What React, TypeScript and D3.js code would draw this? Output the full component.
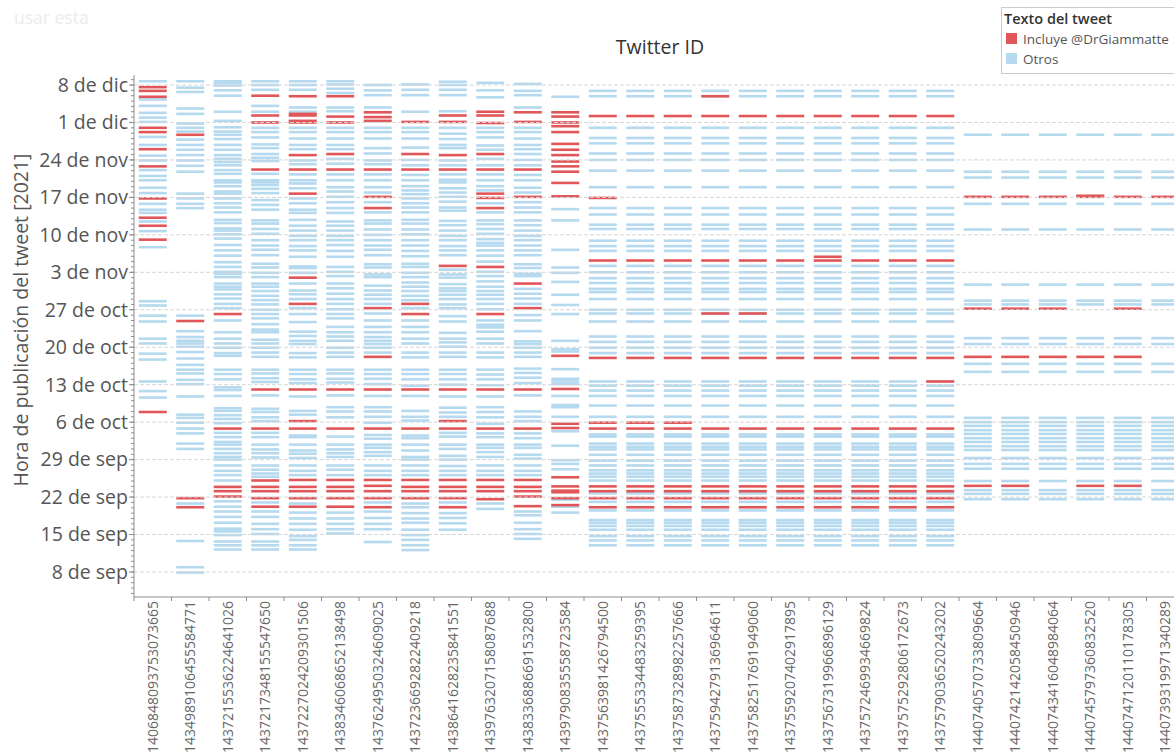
import React from "react";
import * as d3 from "d3";

// Twitter IDs (x categories)
const tweetIds = [
  "1406848093753073665", "1434989106455584771", "1437215536224641026", "1437217348155547650",
  "1437227024209301506", "1438346068652138498", "1437624950324609025", "1437236692822409218",
  "1438641628235841551", "1439763207158087688", "1438336886691532800", "1439790835558723584",
  "1437563981426794500", "1437555334483259395", "1437587328982257666", "1437594279136964611",
  "1437582517691949060", "1437559207402917895", "1437567319966896129", "1437572469934669824",
  "1437575292806172673", "1437579036520243202", "1440740570733809664", "1440742142058450946",
  "1440743416048984064", "1440745797360832520", "1440747120110178305", "1440739319971340289",
];

// Y tick labels (weekly, from 8 Sep 2021)
const yTickLabels = ["8 de sep", "15 de sep", "22 de sep", "29 de sep", "6 de oct", "13 de oct", "20 de oct", "27 de oct", "3 de nov", "10 de nov", "17 de nov", "24 de nov", "1 de dic", "8 de dic"];

const legendTitle = "Texto del tweet";
const legendLabels = ["Incluye @DrGiammatte", "Otros"];

// All values: publication time, in days since 1 Sep 2021 (00:00 UTC)
const c01Otros = [98.7, 95.3, 94.1, 92.8, 91.9, 91.1, 88.3, 86.8, 84.8, 83.9, 82.1, 81.0, 80.2, 78.8, 77.8, 75.8, 74.7, 74.1, 72.5, 70.7, 67.7, 57.6, 56.8, 54.9, 53.8, 50.6, 49.7, 47.8, 46.7, 42.6, 40.8, 39.6];
const c01Incl = [97.6, 96.9, 95.8, 90.0, 89.2, 86.0, 82.8, 76.8, 73.2, 71.7, 69.1, 36.9];

const c02Otros = [98.7, 97.5, 96.7, 93.6, 92.6, 90.8, 90.0, 89.3, 87.8, 86.8, 85.9, 84.9, 83.9, 82.9, 81.8, 77.7, 76.8, 75.8, 75.0, 54.9, 52.0, 50.9, 50.2, 49.7, 49.1, 48.1, 46.9, 45.7, 44.8, 44.1, 42.9, 42.1, 39.8, 36.4, 35.8, 34.9, 33.8, 32.9, 31.0, 30.0, 19.8, 12.8, 7.9, 6.9];
const c02Incl = [88.7, 53.9, 20.8, 19.1];

const c03Otros = [98.7, 98.4, 97.9, 97.0, 96.0, 93.0, 91.3, 90.1, 89.3, 88.7, 87.9, 86.8, 85.9, 84.9, 84.2, 83.6, 83.0, 82.1, 81.4, 80.2, 79.8, 79.1, 78.1, 77.7, 76.8, 75.9, 75.1, 74.2, 72.8, 72.2, 71.2, 70.8, 70.1, 69.3, 68.1, 67.1, 66.1, 64.9, 64.0, 63.1, 62.7, 62.1, 60.9, 60.3, 59.8, 58.9, 58.1, 57.1, 56.3, 54.0, 51.8, 50.6, 49.7, 48.9, 47.9, 47.4, 44.8, 44.0, 43.0, 41.5, 41.0, 39.9, 37.6, 37.1, 36.3, 35.6, 34.8, 33.0, 32.2, 31.3, 30.8, 30.0, 29.2, 28.5, 28.0, 26.9, 25.9, 25.1, 24.1, 20.2, 19.2, 18.3, 17.3, 16.2, 15.1, 14.6, 13.9, 12.7, 12.0, 11.2];
const c03Incl = [55.2, 33.8, 22.9, 22.1, 21.1];

const c04Otros = [98.7, 98.0, 97.1, 94.1, 93.0, 90.0, 89.2, 88.2, 86.9, 86.2, 85.1, 84.4, 83.8, 81.4, 80.2, 79.8, 79.3, 78.6, 77.8, 76.5, 75.6, 74.7, 72.7, 72.1, 71.1, 70.2, 69.0, 68.0, 67.2, 66.2, 64.6, 63.9, 62.9, 62.1, 60.9, 60.3, 59.5, 58.6, 57.8, 57.0, 56.0, 55.2, 54.4, 53.3, 52.3, 51.8, 50.4, 49.7, 48.9, 48.0, 47.2, 44.8, 44.1, 43.2, 42.5, 40.0, 37.5, 36.9, 35.9, 35.2, 33.0, 32.2, 30.8, 29.9, 29.2, 28.4, 26.9, 26.1, 25.4, 24.8, 20.0, 18.3, 17.3, 16.0, 15.0, 14.1, 12.7, 12.0, 11.2];
const c04Incl = [96.0, 92.3, 91.0, 82.2, 41.1, 33.8, 24.1, 22.9, 22.1, 20.8, 19.2];

const c05Otros = [98.7, 98.0, 97.1, 93.8, 93.0, 90.0, 89.2, 88.0, 86.8, 86.0, 83.9, 83.2, 81.3, 80.2, 79.6, 78.7, 76.8, 75.9, 74.7, 74.1, 72.8, 71.7, 70.8, 69.8, 69.0, 67.9, 67.1, 65.9, 64.1, 63.8, 62.9, 60.9, 59.6, 58.9, 58.0, 56.3, 55.2, 53.7, 51.9, 51.1, 50.2, 49.6, 47.9, 47.1, 44.8, 44.0, 43.0, 42.3, 39.8, 37.1, 36.4, 32.5, 32.2, 30.8, 29.7, 29.1, 28.3, 26.9, 25.9, 25.1, 19.8, 18.1, 17.0, 16.0, 14.9, 13.7, 13.0, 12.0, 11.2];
const c05Incl = [95.9, 92.6, 92.3, 91.3, 91.0, 84.9, 82.2, 77.7, 62.0, 57.1, 41.1, 35.2, 33.8, 24.2, 22.9, 22.1, 20.8, 19.2];

const c06Otros = [98.7, 98.1, 97.3, 96.5, 93.8, 93.1, 90.0, 89.2, 88.0, 86.8, 86.0, 84.2, 83.3, 81.3, 80.2, 78.9, 78.1, 77.1, 76.1, 75.0, 74.1, 72.5, 71.7, 70.8, 69.8, 69.0, 68.1, 67.0, 65.9, 64.0, 63.1, 62.3, 60.9, 60.0, 59.0, 58.0, 57.1, 56.1, 55.2, 54.4, 52.8, 51.8, 51.0, 50.2, 48.9, 48.0, 47.2, 44.8, 44.1, 43.1, 42.4, 40.0, 37.8, 37.0, 35.9, 32.3, 30.8, 29.9, 29.2, 28.5, 26.9, 26.1, 25.1, 18.1, 17.0, 16.0, 15.0, 14.2];
const c06Incl = [95.9, 92.1, 91.0, 85.1, 82.2, 41.1, 33.8, 24.2, 22.9, 22.1, 20.8, 19.2];

const c07Otros = [98.0, 97.0, 96.1, 93.8, 90.0, 89.2, 88.0, 86.2, 85.2, 83.9, 83.2, 81.3, 80.2, 78.9, 77.9, 76.1, 74.2, 72.7, 72.1, 71.0, 70.0, 69.0, 68.0, 67.2, 66.2, 64.5, 63.9, 62.6, 62.1, 60.5, 59.6, 58.8, 58.0, 57.1, 55.3, 54.0, 52.8, 51.8, 50.9, 50.2, 49.6, 48.9, 48.0, 44.8, 44.0, 43.1, 42.1, 39.9, 37.8, 37.0, 36.0, 34.9, 32.6, 31.9, 30.8, 30.2, 29.4, 28.7, 26.9, 25.9, 25.1, 20.0, 18.3, 17.1, 16.0, 15.0, 12.6];
const c07Incl = [92.9, 92.0, 91.3, 82.2, 77.1, 75.0, 56.3, 47.2, 41.1, 33.8, 24.2, 23.1, 22.1, 20.8, 19.1];

const c08Otros = [98.1, 97.1, 96.1, 93.0, 90.0, 89.2, 88.0, 86.3, 84.0, 83.0, 81.2, 80.2, 79.1, 78.3, 77.6, 76.8, 75.9, 75.1, 74.2, 72.8, 72.1, 71.0, 70.1, 69.0, 68.0, 67.0, 66.0, 64.6, 64.0, 62.9, 62.1, 61.1, 60.3, 59.5, 58.6, 57.8, 56.3, 54.0, 52.8, 51.8, 50.6, 49.7, 48.0, 47.1, 44.8, 44.0, 43.0, 41.8, 39.9, 37.1, 36.0, 35.3, 32.5, 32.0, 30.8, 29.7, 28.5, 28.0, 26.9, 25.9, 25.1, 19.8, 19.1, 18.0, 17.0, 16.2, 14.9, 13.9, 13.0, 12.0, 11.1];
const c08Incl = [91.1, 85.1, 82.2, 57.1, 55.2, 41.1, 33.8, 24.2, 22.9, 22.1, 20.8];

const c09Otros = [98.6, 98.0, 97.1, 96.1, 93.1, 90.0, 88.9, 87.9, 86.8, 86.2, 83.9, 83.0, 81.3, 80.3, 79.8, 78.7, 77.9, 77.1, 76.2, 75.1, 74.5, 72.6, 71.8, 70.8, 69.8, 69.0, 67.9, 67.1, 66.2, 63.5, 62.6, 62.0, 60.8, 60.0, 59.5, 58.8, 58.0, 57.0, 56.3, 54.8, 53.8, 51.7, 50.6, 49.9, 49.1, 48.0, 47.2, 44.8, 44.0, 43.0, 42.0, 39.8, 37.7, 36.8, 36.0, 33.0, 32.3, 30.8, 30.0, 28.7, 28.0, 26.8, 25.9, 25.1, 20.0, 18.0, 17.1, 16.1, 14.9];
const c09Incl = [92.3, 91.1, 84.9, 82.2, 64.2, 41.1, 35.2, 33.8, 24.2, 22.9, 22.1, 20.8, 19.1];

const c10Otros = [98.4, 97.0, 95.7, 90.0, 89.2, 88.2, 86.7, 85.9, 84.2, 83.0, 81.3, 80.2, 79.1, 78.3, 75.9, 74.2, 72.7, 72.0, 71.1, 70.2, 69.2, 68.5, 68.0, 67.1, 66.1, 65.0, 63.1, 62.3, 61.3, 60.3, 59.5, 58.8, 58.0, 57.1, 56.1, 54.0, 53.2, 52.7, 51.9, 50.6, 49.7, 48.0, 47.1, 44.8, 43.9, 43.0, 41.9, 39.8, 37.8, 36.9, 35.9, 34.7, 32.9, 32.2, 30.8, 30.2, 29.4, 28.5, 26.9, 25.9, 25.1, 19.8, 18.8];
const c10Incl = [93.0, 92.3, 90.9, 85.1, 82.2, 77.7, 76.9, 75.0, 64.0, 55.2, 41.1, 33.8, 24.2, 22.9, 22.1, 20.6];

const c11Otros = [98.2, 96.9, 96.1, 93.8, 90.0, 89.2, 88.0, 86.8, 86.0, 85.1, 84.0, 83.0, 81.2, 80.2, 78.8, 77.9, 76.1, 75.1, 74.2, 72.7, 71.8, 70.8, 69.8, 69.0, 68.0, 67.1, 66.2, 64.5, 63.8, 62.7, 62.3, 59.9, 59.0, 58.1, 57.1, 55.0, 54.0, 52.0, 50.1, 49.6, 48.9, 48.0, 47.2, 45.0, 44.2, 43.3, 42.3, 40.0, 37.0, 36.0, 35.2, 32.9, 32.0, 30.8, 30.2, 28.9, 28.2, 26.9, 25.9, 25.1, 18.3, 17.6, 16.2, 15.0, 14.1, 13.2];
const c11Incl = [92.9, 91.1, 82.2, 77.1, 60.9, 56.3, 41.1, 33.8, 24.2, 22.9, 22.1, 21.1, 19.3];

const c12Otros = [95.8, 74.8, 72.7, 67.2, 63.9, 62.9, 61.2, 58.8, 56.9, 55.2, 50.2, 48.6, 48.2, 44.9, 43.1, 42.6, 42.1, 39.9, 38.2, 37.8, 36.0, 33.3, 30.6, 27.9, 27.2, 26.2, 20.5, 19.2, 18.1];
const c12Incl = [92.9, 92.1, 91.0, 90.3, 89.2, 87.0, 85.9, 84.9, 83.7, 82.8, 81.8, 79.7, 77.2, 47.4, 41.2, 34.7, 33.9, 24.7, 23.0, 22.2, 21.9, 20.8, 19.5];

// Columns 13-22 share the same thread timeline
const hiloOtros = [96.9, 95.9, 90.0, 88.1, 87.1, 85.2, 84.0, 82.0, 78.9, 75.0, 73.8, 71.9, 71.1, 68.9, 67.9, 67.0, 64.2, 63.0, 61.9, 61.0, 59.9, 59.3, 58.0, 56.0, 55.3, 53.8, 51.0, 50.0, 48.9, 47.9, 42.6, 41.8, 40.9, 39.9, 38.1, 36.0, 32.7, 32.3, 31.0, 30.4, 29.9, 28.9, 27.8, 26.9, 26.0, 25.4, 24.8, 24.1, 21.7, 20.1, 18.5, 16.7, 16.2, 15.6, 14.9, 13.7, 12.9, 12.0];
const c13Incl = [92.2, 76.9, 65.2, 47.0, 34.9, 33.8, 23.0, 22.1, 20.8, 19.1];
const c14Incl = [92.2, 65.2, 47.0, 34.9, 33.8, 23.0, 22.1, 20.8, 19.1];
const c15Incl = [92.2, 65.2, 47.0, 34.9, 33.8, 23.0, 22.1, 20.8, 19.1];
const c16Incl = [95.9, 92.2, 65.2, 55.3, 47.0, 33.8, 23.0, 22.1, 20.8, 19.1];
const c17Incl = [92.2, 65.2, 55.3, 47.0, 33.8, 23.0, 22.1, 20.8, 19.1];
const c18Incl = [92.2, 65.2, 47.0, 33.8, 23.0, 22.1, 20.8, 19.1];
const c19Incl = [92.2, 65.9, 65.2, 47.0, 33.8, 23.0, 22.1, 20.8, 19.1];
const c20Incl = [92.2, 65.2, 47.0, 33.8, 23.0, 22.1, 20.8, 19.1];
const c21Incl = [92.2, 65.2, 47.0, 33.8, 23.0, 22.1, 20.8, 19.1];
const c22Incl = [92.2, 65.2, 47.0, 42.6, 33.8, 23.0, 22.1, 20.8, 19.1];

// Columns 23-28 share a later thread timeline
const hilo2Otros = [88.7, 81.8, 80.7, 75.8, 71.0, 60.7, 57.7, 57.0, 50.7, 49.6, 45.9, 44.4, 35.8, 35.0, 34.3, 33.5, 32.8, 32.0, 31.3, 30.5, 29.8, 28.3, 27.2, 26.3, 24.0, 22.3, 21.6, 20.6];
const c23Incl = [77.1, 56.2, 47.2, 23.1];
const c24Incl = [77.1, 56.2, 47.2, 23.1];
const c25Incl = [77.1, 56.2, 47.2];
const c26Incl = [77.1, 77.3, 47.2, 23.1];
const c27Incl = [77.1, 56.2, 47.2, 23.1];
const c28Incl = [77.1];

const otrosByColumn = [c01Otros, c02Otros, c03Otros, c04Otros, c05Otros, c06Otros, c07Otros, c08Otros, c09Otros, c10Otros, c11Otros, c12Otros,
  hiloOtros, hiloOtros, hiloOtros, hiloOtros, hiloOtros, hiloOtros, hiloOtros, hiloOtros, hiloOtros, hiloOtros,
  hilo2Otros, hilo2Otros, hilo2Otros, hilo2Otros, hilo2Otros, hilo2Otros];
const inclByColumn = [c01Incl, c02Incl, c03Incl, c04Incl, c05Incl, c06Incl, c07Incl, c08Incl, c09Incl, c10Incl, c11Incl, c12Incl,
  c13Incl, c14Incl, c15Incl, c16Incl, c17Incl, c18Incl, c19Incl, c20Incl, c21Incl, c22Incl,
  c23Incl, c24Incl, c25Incl, c26Incl, c27Incl, c28Incl];

const EPOCH = Date.UTC(2021, 8, 1);
const DAY = 86400000;
const toDate = (d: number) => new Date(EPOCH + d * DAY);

const BLUE = "#b5d9ee";
const RED = "#e15759";
const FONT = "'Open Sans', 'Noto Sans', sans-serif";

export default function App() {
  const W = 1174, H = 753;
  const left = 134, plotTop = 75, plotBottom = 597, right = 1184;

  const x = d3.scaleBand<string>().domain(tweetIds).range([left, right]).padding(0);
  const markW = 28;
  const markH = 2.6;

  const start = new Date(Date.UTC(2021, 8, 8));
  const end = new Date(Date.UTC(2021, 11, 8));
  const y = d3.scaleUtc().domain([start, end]).range([572, 85]);

  const weekTicks = d3.utcDay.range(start, d3.utcDay.offset(end, 1), 7);
  const dayTicks = d3.utcDay.range(d3.utcDay.offset(start, -5), d3.utcDay.offset(end, 3))
    .filter((d) => y(d) >= plotTop && y(d) <= plotBottom);

  const marks: { id: string; d: number; incl: boolean }[] = [];
  tweetIds.forEach((id, i) => {
    otrosByColumn[i].forEach((d) => marks.push({ id, d, incl: false }));
  });
  tweetIds.forEach((id, i) => {
    inclByColumn[i].forEach((d) => marks.push({ id, d, incl: true }));
  });

  const bw = x.bandwidth();

  return (
    <svg width={W} height={H} style={{ position: "absolute", left: 0, top: 0, background: "#fff" }} fontFamily={FONT}>
      <rect x={0} y={0} width={W} height={H} fill="#fff" />
      <text x={14} y={24} fontSize={17.5} fill="#ececec">usar esta</text>

      {/* title */}
      <text x={660} y={54} textAnchor="middle" fontSize={19.5} fontWeight={500} fill="#333">Twitter ID</text>

      {/* marks */}
      <g>
        {marks.map((m, k) => (
          <rect key={k}
            x={(x(m.id) as number) + (bw - markW) / 2}
            y={y(toDate(m.d)) - markH / 2}
            width={markW} height={markH}
            fill={m.incl ? RED : BLUE} />
        ))}
      </g>

      {/* gridlines */}
      <g>
        {weekTicks.map((t, i) => (
          <line key={i} x1={left} x2={W} y1={y(t)} y2={y(t)} stroke="#d6d6d6" strokeWidth={1} strokeDasharray="4,2" />
        ))}
      </g>

      {/* y axis */}
      <line x1={left} x2={left} y1={plotTop} y2={plotBottom} stroke="#8c8c8c" strokeWidth={1} />
      {dayTicks.map((t, i) => (
        <line key={i} x1={left - 3} x2={left} y1={y(t)} y2={y(t)} stroke="#8c8c8c" strokeWidth={1} />
      ))}
      {weekTicks.map((t, i) => (
        <g key={i}>
          <line x1={left - 5} x2={left} y1={y(t)} y2={y(t)} stroke="#8c8c8c" strokeWidth={1} />
          <text x={left - 6} y={y(t)} dy="0.35em" textAnchor="end" fontSize={19.5} fill="#555">{yTickLabels[i]}</text>
        </g>
      ))}
      <text transform={`translate(28,320) rotate(-90)`} textAnchor="middle" fontSize={19.5} fill="#555">
        Hora de publicación del tweet [2021]
      </text>

      {/* x axis */}
      <line x1={left} x2={W} y1={plotBottom} y2={plotBottom} stroke="#8c8c8c" strokeWidth={1} />
      {tweetIds.map((id, i) => (
        <line key={i} x1={x(id) as number} x2={x(id) as number} y1={plotBottom} y2={plotBottom + 4} stroke="#8c8c8c" />
      ))}
      {tweetIds.map((id, i) => (
        <text key={i} transform={`translate(${(x(id) as number) + bw / 2},${plotBottom + 4}) rotate(-90)`}
          textAnchor="end" dy="0.35em" fontSize={14} fill="#666">{id}</text>
      ))}

      {/* legend */}
      <g>
        <rect x={1001.5} y={7.5} width={190} height={66} fill="#fff" stroke="#ccc" />
        <text x={1004} y={24} fontSize={14.5} fontWeight={600} fill="#333">{legendTitle}</text>
        <rect x={1006} y={33} width={11} height={11} fill={RED} />
        <text x={1023} y={44} fontSize={13.5} fill="#555">{legendLabels[0]}</text>
        <rect x={1006} y={53} width={11} height={11} fill={BLUE} />
        <text x={1023} y={64} fontSize={13.5} fill="#555">{legendLabels[1]}</text>
      </g>
    </svg>
  );
}
